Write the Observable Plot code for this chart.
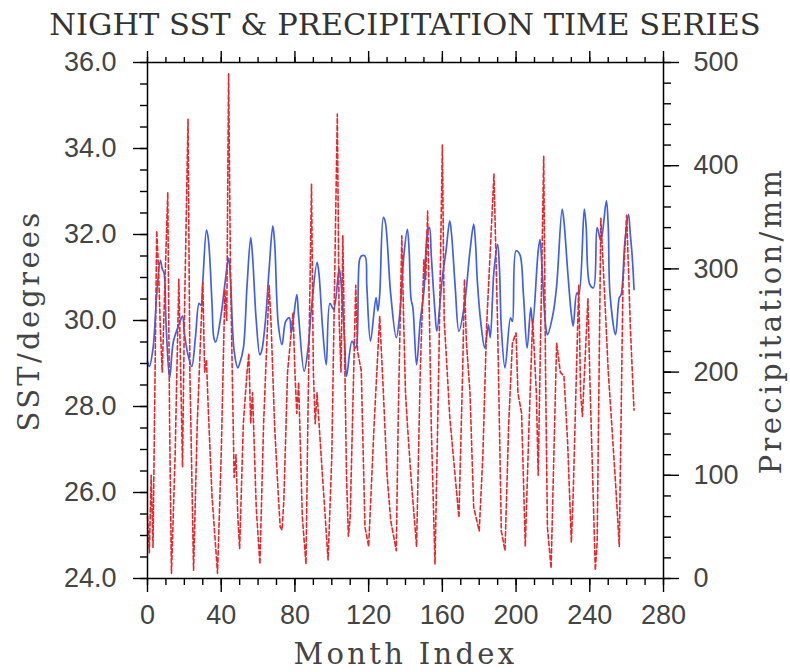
<!DOCTYPE html>
<html><head><meta charset="utf-8">
<script src="https://cdn.jsdelivr.net/npm/d3@7"></script>
<script src="https://cdn.jsdelivr.net/npm/@observablehq/plot@0.6"></script>
<style>
body{margin:0;background:#fff;width:790px;height:672px;overflow:hidden}
#title{height:36px;padding-top:10px;font-family:"DejaVu Serif";font-size:30.5px;line-height:30px;color:#333;text-align:center;padding-left:20px;white-space:nowrap}
</style></head><body>
<div id="title">NIGHT SST &amp; PRECIPITATION TIME SERIES</div>
<div id="chart"></div>
<script>
// --- data (key points of each series) ---
const sstMonth = [0,1,3,5,7,8,9,10,12,14,17,19,20,22,24,26,28,29,30,32,33,35,36,37,40,42,44,45,47,49,50,52,54,56,57,59,61,62,64,66,68,69,71,73,75,77,78,81,82,85,87,89,92,93,95,97,99,101,104,105,107,108,111,113,115,116,118,119,121,124,125,126,128,129,132,135,137,139,141,142,143,144,146,148,150,152,153,154,156,157,160,162,164,165,167,169,172,175,177,178,179,181,183,185,186,188,190,191,192,194,197,198,200,202,204,206,208,209,212,213,214,216,217,220,222,225,226,228,230,231,233,234,237,238,240,242,244,246,249,250,251,254,256,257,259,261,262,263,264];
const sstValue = [29.05,28.93,29.35,30.6,31.4,31.2,31.1,30.0,28.66,29.5,29.9,30.1,29.7,29.2,28.93,29.6,30.4,30.35,30.9,32.1,31.9,30.4,29.6,29.5,30.15,30.85,31.45,31.0,29.3,28.9,29.0,29.35,30.8,31.93,31.5,30.0,29.2,29.3,30.0,31.2,32.2,31.8,29.9,29.44,29.98,30.06,29.7,30.6,30.1,28.82,29.3,30.3,31.35,31.1,29.83,28.97,30.4,30.26,31.2,30.9,29.5,28.7,29.52,29.36,31.4,31.5,31.5,30.8,29.52,30.53,30.22,30.6,32.4,32.3,30.6,29.6,30.2,31.46,32.12,31.6,30.5,30.3,28.97,29.98,30.68,32.08,32.16,31.5,30.2,29.75,31.0,31.62,32.32,32.0,30.76,29.75,30.37,31.62,32.24,31.8,30.9,29.9,29.36,29.9,29.6,31.15,31.77,31.2,29.83,28.9,30.06,29.98,31.62,31.54,30.6,29.36,30.3,29.9,31.62,31.89,31.3,29.9,29.67,30.14,30.8,32.59,32.3,31.15,30.14,29.87,30.64,30.6,32.59,32.2,30.84,30.76,32.16,31.85,32.78,32.2,30.6,29.67,30.53,30.6,31.8,32.47,32.0,31.5,30.72];

const precipMonth = [0,1,2,3,5,6,7,8,9,11,12,13,15,17,18,19,20,22,23,25,27,30,31,32,33,35,38,40,42,43,44,45,47,48,49,50,52,54,55,56,57,59,61,63,66,67,69,71,72,73,74,76,79,80,81,82,84,86,87,89,90,91,92,95,98,100,103,104,105,106,108,109,110,113,114,116,118,120,123,126,128,130,132,135,136,138,139,140,141,143,146,148,150,151,152,154,156,158,160,161,162,164,167,169,171,172,173,175,177,180,182,184,188,190,192,194,196,198,200,201,203,205,207,209,211,212,215,216,217,219,222,224,226,228,230,231,234,235,236,239,240,243,244,246,248,250,252,254,256,258,260,261,262,264];
const precipValue = [60,25,100,30,337,300,240,200,260,374,150,5,120,290,200,108,250,445,200,8,150,287,200,212,163,80,5,120,280,250,489,300,98,120,60,29,150,200,218,150,180,69,14,150,284,250,147,80,50,47,76,200,258,200,160,190,60,14,150,382,200,150,180,98,18,118,450,250,200,332,98,41,60,284,220,201,50,31,150,254,180,100,56,27,150,332,250,180,150,98,31,200,309,290,356,147,14,200,420,250,220,157,98,59,200,290,230,180,69,46,120,244,392,244,46,27,150,228,238,180,160,31,147,251,180,100,409,200,50,10,228,200,196,131,35,82,284,180,157,271,196,8,35,349,277,201,147,92,31,284,352,300,244,163];

const monthTicks = [0,40,80,120,160,200,240,280];
const monthMinorTicks = d3.range(0, 281, 10);
const sstTicks = [24,26,28,30,32,34,36];
const sstMinorTicks = d3.range(24, 36.01, 0.5);
const precipTicks = [0,100,200,300,400,500];
const precipMinorTicks = d3.range(0, 501, 20);

const title = "NIGHT SST & PRECIPITATION TIME SERIES";
const xLabel = "Month Index";
const yLabelLeft = "SST/degrees";
const yLabelRight = "Precipitation/mm";

// --- chart ---
const sstDomain = [24, 36], precipDomain = [0, 500];
const k = (sstDomain[1] - sstDomain[0]) / (precipDomain[1] - precipDomain[0]);
const toY = p => sstDomain[0] + (p - precipDomain[0]) * k;
const fromY = y => precipDomain[0] + (y - sstDomain[0]) / k;

const sst = sstMonth.map((m, i) => ({m, v: sstValue[i]}));
const precip = precipMonth.map((m, i) => ({m, v: precipValue[i]}));

const tickStyle = {stroke: "black", strokeWidth: 1.4, fill: "#444", label: null};
const labelFont = {fontFamily: "DejaVu Serif", fontSize: 29, fill: "#444", text: d => d, textAnchor: "middle"};

const chart = Plot.plot({
  width: 790, height: 626,
  marginTop: 16, marginBottom: 94, marginLeft: 147, marginRight: 127,
  x: {domain: [0, 280]},
  y: {domain: sstDomain},
  style: {fontFamily: "Liberation Sans", fontSize: "27px", color: "black", background: "white", overflow: "visible"},
  marks: [
    Plot.line(sst, {x: "m", y: "v", stroke: "#4060e6", strokeWidth: 1.7, curve: "catmull-rom"}),
    Plot.line(precip, {x: "m", y: d => toY(d.v), stroke: "#e8262b", strokeWidth: 1.6, strokeDasharray: "4.5,2.5"}),
    Plot.frame({stroke: "black", strokeWidth: 1.5}),
    Plot.axisX({...tickStyle, ticks: monthTicks, tickSize: 14, tickPadding: 12, tickFormat: d => String(d)}),
    Plot.axisX({...tickStyle, ticks: monthMinorTicks, tickSize: 7, tickFormat: () => ""}),
    Plot.axisX({...tickStyle, anchor: "top", ticks: monthTicks, tickSize: 12, tickFormat: () => ""}),
    Plot.axisX({...tickStyle, anchor: "top", ticks: monthMinorTicks, tickSize: 6, tickFormat: () => ""}),
    Plot.axisY({...tickStyle, ticks: sstTicks, tickSize: 14, tickPadding: 17, tickFormat: d3.format(".1f")}),
    Plot.axisY({...tickStyle, ticks: sstMinorTicks, tickSize: 7, tickFormat: () => ""}),
    Plot.axisY({...tickStyle, anchor: "right", ticks: precipTicks.map(toY), tickSize: 15, tickPadding: 15, tickFormat: y => String(Math.round(fromY(y)))}),
    Plot.axisY({...tickStyle, anchor: "right", ticks: precipMinorTicks.map(toY), tickSize: 7, tickFormat: () => ""}),
    Plot.text([xLabel], {...labelFont, frameAnchor: "bottom", lineAnchor: "bottom", dy: 85}),
    Plot.text([yLabelLeft], {...labelFont, frameAnchor: "left", lineAnchor: "bottom", rotate: -90, dx: -109}),
    Plot.text([yLabelRight], {...labelFont, frameAnchor: "right", lineAnchor: "bottom", rotate: -90, dx: 117})
  ]
});
d3.select(chart).selectAll("text").filter(function() {
  return [xLabel, yLabelLeft, yLabelRight].includes(this.textContent);
}).style("letter-spacing", "3.3px");
document.getElementById("title").textContent = title;
document.getElementById("chart").appendChild(chart);
</script>
</body></html>
